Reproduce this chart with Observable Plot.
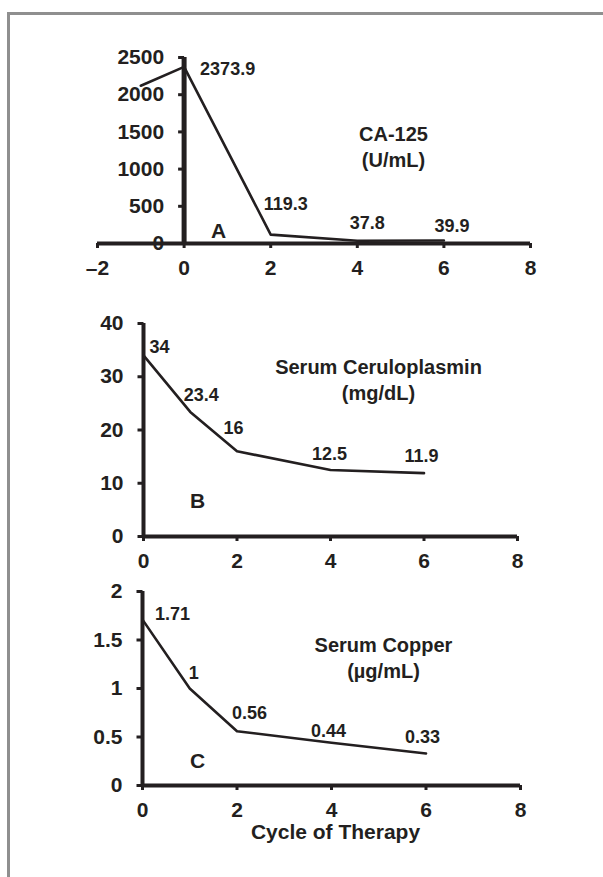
<!DOCTYPE html>
<html><head><meta charset="utf-8">
<script src="https://cdn.jsdelivr.net/npm/d3@7"></script>
<script src="https://cdn.jsdelivr.net/npm/@observablehq/plot@0.6"></script>
<style>
html,body{margin:0;padding:0;background:#fff;}
#root{position:relative;width:603px;height:877px;overflow:hidden;background:#fff;}
#frame{position:absolute;left:7px;top:12px;right:0;bottom:0;border-top:3px solid #8f8f8f;border-left:3px solid #8f8f8f;}
.panel{position:absolute;left:0;width:603px;}
</style></head><body>
<div id="root"><div id="frame"></div></div>
<script>
// ---- data ----
const cyclesA = [-1, 0, 2, 4, 6];
const ca125 = [2120, 2373.9, 119.3, 37.8, 39.9];
const ca125Labels = [null, "2373.9", "119.3", "37.8", "39.9"];
const cyclesB = [0, 1, 2, 4, 6];
const ceruloplasmin = [34, 23.4, 16, 12.5, 11.9];
const ceruloplasminLabels = ["34", "23.4", "16", "12.5", "11.9"];
const cyclesC = [0, 1, 2, 4, 6];
const copper = [1.71, 1, 0.56, 0.44, 0.33];
const copperLabels = ["1.71", "1", "0.56", "0.44", "0.33"];
const xTicksA = [-2, 0, 2, 4, 6, 8];
const xTicksBC = [0, 2, 4, 6, 8];
const yTicksA = [0, 500, 1000, 1500, 2000, 2500];
const yTicksB = [0, 10, 20, 30, 40];
const yTicksC = [0, 0.5, 1, 1.5, 2];
const titleA = "CA-125\n(U/mL)";
const titleB = "Serum Ceruloplasmin\n(mg/dL)";
const titleC = "Serum Copper\n(\u00b5g/mL)";
const xAxisTitle = "Cycle of Therapy";

// ---- layout ----
const ink = "#231f20";
const FONT = "'Liberation Sans', Arial, Helvetica, sans-serif";
const fmt = d => d < 0 ? "\u2013" + (-d) : String(d);
const tickSym = {draw(ctx) { ctx.moveTo(-6, 0); ctx.lineTo(0, 0); }};

function panel(cfg) {
  const {top, height, m, xDomain, yDomain, xTicks, yTicks, xs, ys, labels, nudges,
         title, titleOff, letter, letterOff, yAxisW, extra = []} = cfg;
  const pts = xs.map((x, i) => ({x, y: ys[i], label: labels[i], i}));
  const labelMarks = pts.filter(p => p.label).map(p => {
    const n = nudges[p.i];
    return Plot.text([p], {x: "x", y: "y", text: "label", dx: n[0], dy: n[1],
      textAnchor: n[2] || "middle", fontSize: 18, fill: ink});
  });
  const chart = Plot.plot({
    width: 603, height,
    marginTop: m[0], marginRight: m[1], marginBottom: m[2], marginLeft: m[3],
    x: {domain: xDomain, axis: null},
    y: {domain: yDomain, axis: null},
    style: {fontFamily: FONT, fontWeight: "bold", fontSize: "21px", color: ink,
            background: "transparent", overflow: "visible"},
    marks: [
      Plot.text(yTicks, {x: 0, y: d => d, text: d => fmt(d), textAnchor: "end", dx: -20, fontSize: 21, fill: ink}),
      Plot.axisX(xTicks, {tickSize: 5, strokeWidth: 3, tickPadding: 12, tickFormat: fmt, fontSize: 21, label: null, stroke: ink, fill: ink}),
      Plot.dot(yTicks, {x: 0, y: d => d, symbol: tickSym, stroke: ink, strokeWidth: 3, fill: "none"}),
      Plot.ruleY([0], {stroke: ink, strokeWidth: 4}),
      Plot.ruleX([0], {stroke: ink, strokeWidth: yAxisW}),
      Plot.line(pts, {x: "x", y: "y", stroke: ink, strokeWidth: 2.6}),
      ...labelMarks,
      Plot.text([title], {frameAnchor: "top-left", dx: titleOff[0], dy: titleOff[1], text: d => d,
        textAnchor: "middle", lineHeight: 1.3, fontSize: 20, fill: ink}),
      Plot.text([letter], {frameAnchor: "top-left", dx: letterOff[0], dy: letterOff[1], text: d => d,
        textAnchor: "middle", fontSize: 21, fill: ink}),
      ...extra
    ]
  });
  const div = document.createElement("div");
  div.className = "panel";
  div.style.top = top + "px";
  div.appendChild(chart);
  document.getElementById("root").appendChild(div);
}

panel({top: 0, height: 290, m: [57, 73, 47, 97], xDomain: [-2, 8], yDomain: [0, 2500],
  xTicks: xTicksA, yTicks: yTicksA, xs: cyclesA, ys: ca125, labels: ca125Labels,
  nudges: [null, [16, 2, "start"], [15, -30], [10, -17], [8, -14]],
  title: titleA, titleOff: [296, 65.5], letter: "A", letterOff: [121, 166], yAxisW: 5});

panel({top: 290, height: 285, m: [33, 86, 39, 143], xDomain: [0, 8], yDomain: [0, 40],
  xTicks: xTicksBC, yTicks: yTicksB, xs: cyclesB, ys: ceruloplasmin, labels: ceruloplasminLabels,
  nudges: [[16, -8], [11, -17], [-3.5, -23], [-1, -16], [-2.5, -17]],
  title: titleB, titleOff: [235, 32.5], letter: "B", letterOff: [54, 170], yAxisW: 4});

panel({top: 575, height: 302, m: [16, 83, 92, 142], xDomain: [0, 8], yDomain: [0, 2],
  xTicks: xTicksBC, yTicks: yTicksC, xs: cyclesC, ys: copper, labels: copperLabels,
  nudges: [[30, -5], [4, -15], [12.5, -17.7], [-3, -12], [-3.5, -16]],
  title: titleC, titleOff: [241, 42.5], letter: "C", letterOff: [55, 162], yAxisW: 4,
  extra: [Plot.text([xAxisTitle], {frameAnchor: "bottom", dx: 4, dy: 53, text: d => d, fontSize: 21, fill: ink})]});
</script>
</body></html>
